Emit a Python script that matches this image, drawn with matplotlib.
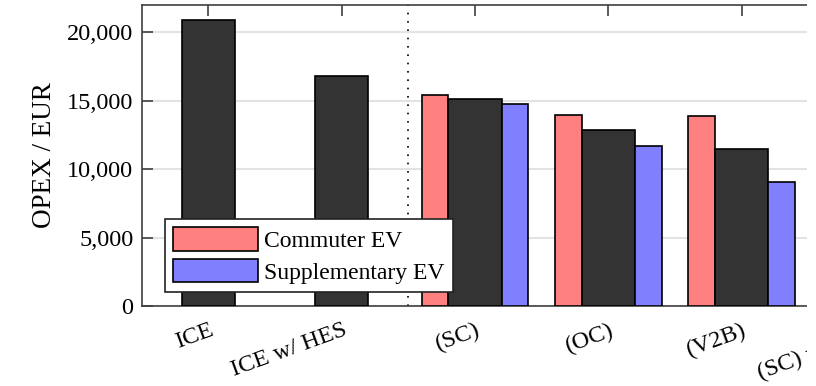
import matplotlib
matplotlib.use("Agg")
import matplotlib.pyplot as plt
import matplotlib.ticker as mtick
import matplotlib.transforms as mtrans
from matplotlib.patches import Rectangle
import numpy as np

plt.rcParams['font.family'] = ['Liberation Serif', 'DejaVu Serif']

#-------------------------------------------------------------------------------
# data
tick_labels = ["ICE", "ICE w/ HES", "(SC)", "(OC)", "(V2B)", "(SC) w/ HES"]
single_labels = ["ICE", "ICE w/ HES"]
single_values = [20900, 16780]
group_labels = ["(SC)", "(OC)", "(V2B)"]
commuter_values = [15390, 13980, 13880]
combined_values = [15120, 12880, 11460]
supplementary_values = [14760, 11730, 9070]

RED = '#ff8080'
DARK = '#333333'
BLUE = '#8080ff'
SPINE = '#404040'

fig = plt.figure(figsize=(8.16, 3.86), dpi=100)
ax = fig.add_axes([141.7/816, 80/386, 733.3/816, 301/386])

x_single = np.arange(len(single_values))
x_group = np.arange(len(group_labels)) + len(single_values)

ax.bar(x_single, single_values, 0.4, color=DARK, edgecolor='k', linewidth=1.2, zorder=3)
ax.bar(x_group - 0.3, commuter_values, 0.2, color=RED, edgecolor='k', linewidth=1.2,
       zorder=3, label="Commuter EV")
ax.bar(x_group, combined_values, 0.4, color=DARK, edgecolor='k', linewidth=1.2, zorder=3)
ax.bar(x_group + 0.3, supplementary_values, 0.2, color=BLUE, edgecolor='k', linewidth=1.2,
       zorder=3, label="Supplementary EV")

# separator between the ICE references and the EV cases
ax.axvline(len(single_values) - 0.5, color='k', linestyle=(0, (1, 4)), linewidth=1.2, zorder=2)

ax.set_xlim(-0.5, len(tick_labels) - 1)
ax.set_ylim(0, 22000)
ax.set_yticks([0, 5000, 10000, 15000, 20000])
ax.yaxis.set_major_formatter(mtick.StrMethodFormatter('{x:,.0f}'))
ax.set_xticks(np.arange(len(tick_labels)))
ax.set_xticklabels(tick_labels, rotation=20, ha='right')

ax.tick_params(axis='both', which='both', direction='in', length=8, width=1.2,
               color=SPINE, labelsize=17.5, top=True, right=True)
ax.tick_params(axis='x', pad=10)
ax.tick_params(axis='y', pad=6)
# nudge the rotated labels to the right (after tick_params, which resets transforms)
offset = mtrans.ScaledTranslation(8/100, 0, fig.dpi_scale_trans)
for tick in ax.xaxis.get_major_ticks():
    tick.label1.set_transform(tick.label1.get_transform() + offset)

for sp in ax.spines.values():
    sp.set_color(SPINE)
    sp.set_linewidth(1.2)

ax.yaxis.grid(True, color='#e3e3e3', linewidth=1.5, zorder=0)
ax.set_axisbelow(True)
ax.set_ylabel("OPEX / EUR", fontsize=19.5, labelpad=7)

leg = ax.legend(loc='lower left', bbox_to_anchor=(23/733.3, 14/301), borderaxespad=0,
                fontsize=17, handlelength=3.6, handleheight=1.15, handletextpad=0.25,
                labelspacing=0.3, borderpad=0.35, fancybox=False, framealpha=1)
leg.get_frame().set_edgecolor('#222222')
leg.get_frame().set_linewidth(1.2)
leg.set_zorder(5)

# the reference is cut off at the right
fig.patches.append(Rectangle((807/816, 0), 1, 1, transform=fig.transFigure,
                             facecolor='white', edgecolor='none', zorder=10))

fig.savefig("out.png", dpi=100)
plt.close(fig)
